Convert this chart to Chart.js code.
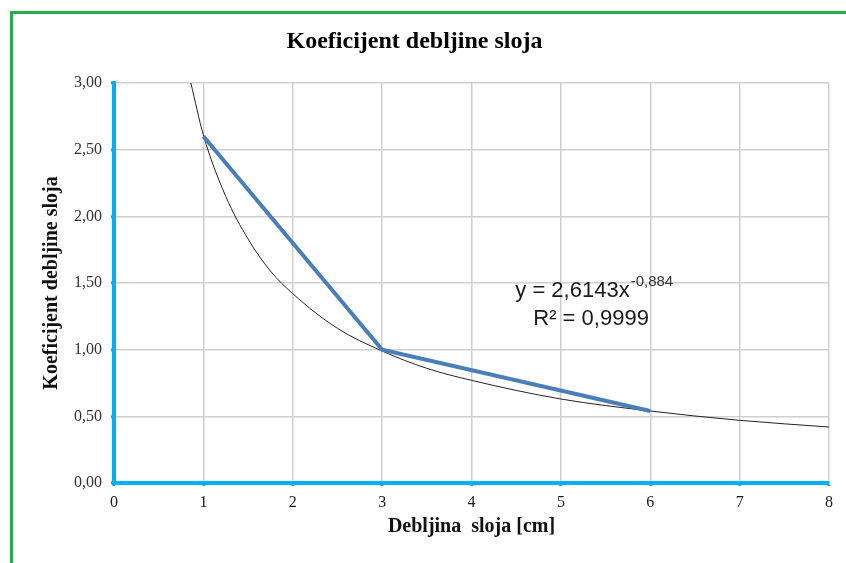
<!DOCTYPE html>
<html><head><meta charset="utf-8">
<script src="https://cdn.jsdelivr.net/npm/chart.js@4/dist/chart.umd.min.js"></script>
<style>
html,body{margin:0;padding:0;background:#fff;}
#wrap{position:relative;width:846px;height:563px;overflow:hidden;background:#fff;}
#frame{position:absolute;left:10px;top:11px;width:900px;height:700px;border-top:3px solid #1fb04c;border-left:3px solid #1fb04c;box-sizing:border-box;}
canvas{position:absolute;left:0;top:0;}
</style></head><body>
<div id="wrap"><div id="frame"></div><canvas id="c" width="846" height="563"></canvas></div>
<script>
// Measured series (blue line)
const measuredX = [1, 3, 6];
const measuredY = [2.60, 1.00, 0.54];
// Power trendline, values
const trendX = [0.86, 1, 1.25, 1.5, 1.75, 2, 2.5, 3, 3.5, 4, 5, 6, 7, 8];
const trendY = [3.00, 2.61, 2.15, 1.83, 1.59, 1.42, 1.16, 0.99, 0.86, 0.77, 0.63, 0.54, 0.47, 0.42];
// Axis ticks
const xTickValues = [0, 1, 2, 3, 4, 5, 6, 7, 8];
const yTickValues = [0, 0.5, 1, 1.5, 2, 2.5, 3];
// Texts
const chartTitle = 'Koeficijent debljine sloja';
const xTitle = 'Debljina  sloja [cm]';
const yTitle = 'Koeficijent debljine sloja';
const eqMain = 'y = 2,6143x';
const eqExp = '-0,884';
const eqR2 = 'R² = 0,9999';

const fmt = v => Number(v).toFixed(2).replace('.', ',');

const eqPlugin = {
  id: 'eq',
  afterDatasetsDraw(chart) {
    const ctx = chart.ctx;
    const xs = chart.scales.x, ys = chart.scales.y;
    const x0 = xs.getPixelForValue(4.49);
    const y0 = ys.getPixelForValue(1.395);
    ctx.save();
    ctx.fillStyle = '#1a1a1a';
    ctx.textBaseline = 'alphabetic';
    ctx.textAlign = 'left';
    ctx.font = '22px "Liberation Sans", Arial, sans-serif';
    ctx.fillText(eqMain, x0, y0);
    const w = ctx.measureText(eqMain).width;
    ctx.font = '15px "Liberation Sans", Arial, sans-serif';
    ctx.fillStyle = '#333';
    ctx.fillText(eqExp, x0 + w + 1, y0 - 11);
    ctx.fillStyle = '#1a1a1a';
    ctx.font = '22px "Liberation Sans", Arial, sans-serif';
    ctx.fillText(eqR2, x0 + 18, y0 + 28);
    ctx.restore();
  }
};

new Chart(document.getElementById('c'), {
  type: 'scatter',
  data: {
    datasets: [
      {
        label: 'Trend',
        data: trendX.map((x, i) => ({x, y: trendY[i]})),
        showLine: true,
        borderColor: '#222',
        borderWidth: 1,
        pointRadius: 0,
        cubicInterpolationMode: 'monotone',
        order: 2
      },
      {
        label: 'Koeficijent',
        data: measuredX.map((x, i) => ({x, y: measuredY[i]})),
        showLine: true,
        borderColor: '#4a7ebb',
        borderWidth: 4,
        pointRadius: 0,
        tension: 0,
        order: 1
      }
    ]
  },
  options: {
    responsive: false,
    animation: false,
    devicePixelRatio: 1,
    layout: { padding: { left: 0, right: 17, top: 0, bottom: 0 } },
    plugins: {
      legend: { display: false },
      tooltip: { enabled: false },
      title: {
        display: true,
        text: chartTitle,
        color: '#000',
        font: { family: '"Liberation Serif", "Times New Roman", serif', size: 24, weight: 'bold' },
        padding: { top: 27.6, bottom: 26.6 }
      }
    },
    scales: {
      x: {
        type: 'linear',
        min: 0, max: 8,
        afterBuildTicks: s => { s.ticks = xTickValues.map(v => ({value: v})); },
        afterFit: s => { s.height = 80; },
        border: { color: '#00b0f0', width: 4 },
        grid: { color: '#cfcfcf', lineWidth: 1.5, tickLength: 3, tickColor: '#00b0f0', tickWidth: 3 },
        ticks: {
          color: '#1a1a1a',
          padding: 7,
          maxRotation: 0,
          font: { family: '"Liberation Serif", "Times New Roman", serif', size: 16 }
        },
        title: {
          display: true,
          text: xTitle,
          color: '#111',
          font: { family: '"Liberation Serif", "Times New Roman", serif', size: 20, weight: 'bold' },
          padding: { top: 0, bottom: 24 }
        }
      },
      y: {
        type: 'linear',
        min: 0, max: 3,
        afterBuildTicks: s => { s.ticks = yTickValues.map(v => ({value: v})); },
        afterFit: s => { s.width = 114; },
        border: { color: '#00b0f0', width: 4 },
        grid: { color: '#cfcfcf', lineWidth: 1.5, tickLength: 3, tickColor: '#00b0f0', tickWidth: 3 },
        ticks: {
          color: '#333',
          padding: 9,
          callback: v => fmt(v),
          font: { family: '"Liberation Serif", "Times New Roman", serif', size: 16 }
        },
        title: {
          display: true,
          text: yTitle,
          color: '#111',
          font: { family: '"Liberation Serif", "Times New Roman", serif', size: 20, weight: 'bold' },
          padding: { top: 40, bottom: 0 }
        }
      }
    }
  },
  plugins: [eqPlugin]
});
</script>
</body></html>
